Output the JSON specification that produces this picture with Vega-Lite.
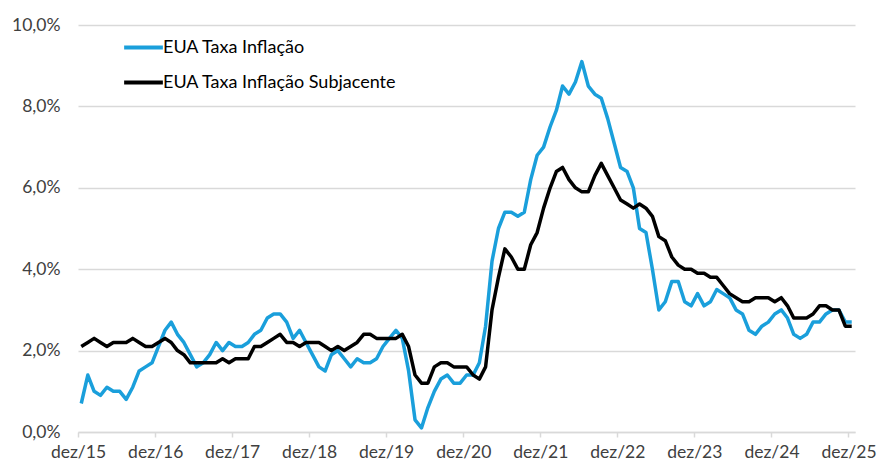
{
  "$schema": "https://vega.github.io/schema/vega-lite/v6.json",
  "width": 777,
  "height": 407,
  "autosize": {"type": "none"},
  "padding": {"left": 78, "top": 25, "right": 25, "bottom": 32},
  "background": "white",
  "config": {
    "view": {"stroke": null},
    "font": "Lato",
    "axis": {"labelFont": "Lato", "labelColor": "#404040", "labelFontSize": 17.5},
    "legend": {"labelFont": "Lato"}
  },
  "data": {
    "values": [
      {"d": "2015-12-01", "cpi": 0.7, "core": 2.1},
      {"d": "2016-01-01", "cpi": 1.4, "core": 2.2},
      {"d": "2016-02-01", "cpi": 1.0, "core": 2.3},
      {"d": "2016-03-01", "cpi": 0.9, "core": 2.2},
      {"d": "2016-04-01", "cpi": 1.1, "core": 2.1},
      {"d": "2016-05-01", "cpi": 1.0, "core": 2.2},
      {"d": "2016-06-01", "cpi": 1.0, "core": 2.2},
      {"d": "2016-07-01", "cpi": 0.8, "core": 2.2},
      {"d": "2016-08-01", "cpi": 1.1, "core": 2.3},
      {"d": "2016-09-01", "cpi": 1.5, "core": 2.2},
      {"d": "2016-10-01", "cpi": 1.6, "core": 2.1},
      {"d": "2016-11-01", "cpi": 1.7, "core": 2.1},
      {"d": "2016-12-01", "cpi": 2.1, "core": 2.2},
      {"d": "2017-01-01", "cpi": 2.5, "core": 2.3},
      {"d": "2017-02-01", "cpi": 2.7, "core": 2.2},
      {"d": "2017-03-01", "cpi": 2.4, "core": 2.0},
      {"d": "2017-04-01", "cpi": 2.2, "core": 1.9},
      {"d": "2017-05-01", "cpi": 1.9, "core": 1.7},
      {"d": "2017-06-01", "cpi": 1.6, "core": 1.7},
      {"d": "2017-07-01", "cpi": 1.7, "core": 1.7},
      {"d": "2017-08-01", "cpi": 1.9, "core": 1.7},
      {"d": "2017-09-01", "cpi": 2.2, "core": 1.7},
      {"d": "2017-10-01", "cpi": 2.0, "core": 1.8},
      {"d": "2017-11-01", "cpi": 2.2, "core": 1.7},
      {"d": "2017-12-01", "cpi": 2.1, "core": 1.8},
      {"d": "2018-01-01", "cpi": 2.1, "core": 1.8},
      {"d": "2018-02-01", "cpi": 2.2, "core": 1.8},
      {"d": "2018-03-01", "cpi": 2.4, "core": 2.1},
      {"d": "2018-04-01", "cpi": 2.5, "core": 2.1},
      {"d": "2018-05-01", "cpi": 2.8, "core": 2.2},
      {"d": "2018-06-01", "cpi": 2.9, "core": 2.3},
      {"d": "2018-07-01", "cpi": 2.9, "core": 2.4},
      {"d": "2018-08-01", "cpi": 2.7, "core": 2.2},
      {"d": "2018-09-01", "cpi": 2.3, "core": 2.2},
      {"d": "2018-10-01", "cpi": 2.5, "core": 2.1},
      {"d": "2018-11-01", "cpi": 2.2, "core": 2.2},
      {"d": "2018-12-01", "cpi": 1.9, "core": 2.2},
      {"d": "2019-01-01", "cpi": 1.6, "core": 2.2},
      {"d": "2019-02-01", "cpi": 1.5, "core": 2.1},
      {"d": "2019-03-01", "cpi": 1.9, "core": 2.0},
      {"d": "2019-04-01", "cpi": 2.0, "core": 2.1},
      {"d": "2019-05-01", "cpi": 1.8, "core": 2.0},
      {"d": "2019-06-01", "cpi": 1.6, "core": 2.1},
      {"d": "2019-07-01", "cpi": 1.8, "core": 2.2},
      {"d": "2019-08-01", "cpi": 1.7, "core": 2.4},
      {"d": "2019-09-01", "cpi": 1.7, "core": 2.4},
      {"d": "2019-10-01", "cpi": 1.8, "core": 2.3},
      {"d": "2019-11-01", "cpi": 2.1, "core": 2.3},
      {"d": "2019-12-01", "cpi": 2.3, "core": 2.3},
      {"d": "2020-01-01", "cpi": 2.5, "core": 2.3},
      {"d": "2020-02-01", "cpi": 2.3, "core": 2.4},
      {"d": "2020-03-01", "cpi": 1.5, "core": 2.1},
      {"d": "2020-04-01", "cpi": 0.3, "core": 1.4},
      {"d": "2020-05-01", "cpi": 0.1, "core": 1.2},
      {"d": "2020-06-01", "cpi": 0.6, "core": 1.2},
      {"d": "2020-07-01", "cpi": 1.0, "core": 1.6},
      {"d": "2020-08-01", "cpi": 1.3, "core": 1.7},
      {"d": "2020-09-01", "cpi": 1.4, "core": 1.7},
      {"d": "2020-10-01", "cpi": 1.2, "core": 1.6},
      {"d": "2020-11-01", "cpi": 1.2, "core": 1.6},
      {"d": "2020-12-01", "cpi": 1.4, "core": 1.6},
      {"d": "2021-01-01", "cpi": 1.4, "core": 1.4},
      {"d": "2021-02-01", "cpi": 1.7, "core": 1.3},
      {"d": "2021-03-01", "cpi": 2.6, "core": 1.6},
      {"d": "2021-04-01", "cpi": 4.2, "core": 3.0},
      {"d": "2021-05-01", "cpi": 5.0, "core": 3.8},
      {"d": "2021-06-01", "cpi": 5.4, "core": 4.5},
      {"d": "2021-07-01", "cpi": 5.4, "core": 4.3},
      {"d": "2021-08-01", "cpi": 5.3, "core": 4.0},
      {"d": "2021-09-01", "cpi": 5.4, "core": 4.0},
      {"d": "2021-10-01", "cpi": 6.2, "core": 4.6},
      {"d": "2021-11-01", "cpi": 6.8, "core": 4.9},
      {"d": "2021-12-01", "cpi": 7.0, "core": 5.5},
      {"d": "2022-01-01", "cpi": 7.5, "core": 6.0},
      {"d": "2022-02-01", "cpi": 7.9, "core": 6.4},
      {"d": "2022-03-01", "cpi": 8.5, "core": 6.5},
      {"d": "2022-04-01", "cpi": 8.3, "core": 6.2},
      {"d": "2022-05-01", "cpi": 8.6, "core": 6.0},
      {"d": "2022-06-01", "cpi": 9.1, "core": 5.9},
      {"d": "2022-07-01", "cpi": 8.5, "core": 5.9},
      {"d": "2022-08-01", "cpi": 8.3, "core": 6.3},
      {"d": "2022-09-01", "cpi": 8.2, "core": 6.6},
      {"d": "2022-10-01", "cpi": 7.7, "core": 6.3},
      {"d": "2022-11-01", "cpi": 7.1, "core": 6.0},
      {"d": "2022-12-01", "cpi": 6.5, "core": 5.7},
      {"d": "2023-01-01", "cpi": 6.4, "core": 5.6},
      {"d": "2023-02-01", "cpi": 6.0, "core": 5.5},
      {"d": "2023-03-01", "cpi": 5.0, "core": 5.6},
      {"d": "2023-04-01", "cpi": 4.9, "core": 5.5},
      {"d": "2023-05-01", "cpi": 4.0, "core": 5.3},
      {"d": "2023-06-01", "cpi": 3.0, "core": 4.8},
      {"d": "2023-07-01", "cpi": 3.2, "core": 4.7},
      {"d": "2023-08-01", "cpi": 3.7, "core": 4.3},
      {"d": "2023-09-01", "cpi": 3.7, "core": 4.1},
      {"d": "2023-10-01", "cpi": 3.2, "core": 4.0},
      {"d": "2023-11-01", "cpi": 3.1, "core": 4.0},
      {"d": "2023-12-01", "cpi": 3.4, "core": 3.9},
      {"d": "2024-01-01", "cpi": 3.1, "core": 3.9},
      {"d": "2024-02-01", "cpi": 3.2, "core": 3.8},
      {"d": "2024-03-01", "cpi": 3.5, "core": 3.8},
      {"d": "2024-04-01", "cpi": 3.4, "core": 3.6},
      {"d": "2024-05-01", "cpi": 3.3, "core": 3.4},
      {"d": "2024-06-01", "cpi": 3.0, "core": 3.3},
      {"d": "2024-07-01", "cpi": 2.9, "core": 3.2},
      {"d": "2024-08-01", "cpi": 2.5, "core": 3.2},
      {"d": "2024-09-01", "cpi": 2.4, "core": 3.3},
      {"d": "2024-10-01", "cpi": 2.6, "core": 3.3},
      {"d": "2024-11-01", "cpi": 2.7, "core": 3.3},
      {"d": "2024-12-01", "cpi": 2.9, "core": 3.2},
      {"d": "2025-01-01", "cpi": 3.0, "core": 3.3},
      {"d": "2025-02-01", "cpi": 2.8, "core": 3.1},
      {"d": "2025-03-01", "cpi": 2.4, "core": 2.8},
      {"d": "2025-04-01", "cpi": 2.3, "core": 2.8},
      {"d": "2025-05-01", "cpi": 2.4, "core": 2.8},
      {"d": "2025-06-01", "cpi": 2.7, "core": 2.9},
      {"d": "2025-07-01", "cpi": 2.7, "core": 3.1},
      {"d": "2025-08-01", "cpi": 2.9, "core": 3.1},
      {"d": "2025-09-01", "cpi": 3.0, "core": 3.0},
      {"d": "2025-10-01", "cpi": 3.0, "core": 3.0},
      {"d": "2025-11-01", "cpi": 2.7, "core": 2.6},
      {"d": "2025-12-01", "cpi": 2.7, "core": 2.6}
    ]
  },
  "encoding": {
    "x": {
      "field": "d",
      "type": "temporal",
      "timeUnit": "utcyearmonth",
      "bandPosition": 0.5,
      "scale": {
        "type": "utc",
        "domain": [
          {"year": 2015, "month": 12, "date": 1, "utc": true},
          {"year": 2026, "month": 1, "date": 1, "utc": true}
        ],
        "nice": false
      },
      "axis": {
        "title": null,
        "grid": false,
        "values": [
          {"year": 2015, "month": 12, "date": 1, "utc": true},
          {"year": 2016, "month": 12, "date": 1, "utc": true},
          {"year": 2017, "month": 12, "date": 1, "utc": true},
          {"year": 2018, "month": 12, "date": 1, "utc": true},
          {"year": 2019, "month": 12, "date": 1, "utc": true},
          {"year": 2020, "month": 12, "date": 1, "utc": true},
          {"year": 2021, "month": 12, "date": 1, "utc": true},
          {"year": 2022, "month": 12, "date": 1, "utc": true},
          {"year": 2023, "month": 12, "date": 1, "utc": true},
          {"year": 2024, "month": 12, "date": 1, "utc": true},
          {"year": 2025, "month": 12, "date": 1, "utc": true}
        ],
        "labelExpr": "'dez/' + utcFormat(datum.value, '%y')",
        "domainColor": "#d9d9d9",
        "domainWidth": 1.5,
        "tickColor": "#d9d9d9",
        "tickWidth": 1.5,
        "tickSize": 5,
        "labelPadding": 6,
        "labelFlush": false,
        "labelOverlap": false
      }
    }
  },
  "layer": [
    {
      "mark": {"type": "line", "strokeWidth": 3.5, "strokeJoin": "round"},
      "encoding": {
        "y": {
          "field": "cpi",
          "type": "quantitative",
          "scale": {"domain": [0, 10], "nice": false},
          "axis": {
            "title": null,
            "values": [0, 2, 4, 6, 8, 10],
            "labelExpr": "replace(format(datum.value, '.1f'), '.', ',') + '%'",
            "domain": false,
            "ticks": false,
            "gridColor": "#d9d9d9",
            "gridWidth": 1.5,
            "labelPadding": 18
          }
        },
        "color": {
          "datum": "EUA Taxa Inflação",
          "type": "nominal",
          "scale": {
            "domain": ["EUA Taxa Inflação", "EUA Taxa Inflação Subjacente"],
            "range": ["#1a9fdb", "#000000"]
          },
          "legend": {
            "title": null,
            "orient": "none",
            "legendX": 44,
            "legendY": 1,
            "symbolType": "stroke",
            "symbolSize": 1500,
            "symbolStrokeWidth": 4,
            "labelFontSize": 18,
            "labelColor": "#000000",
            "labelOffset": -2,
            "labelLimit": 500,
            "rowPadding": 4
          }
        }
      }
    },
    {
      "mark": {"type": "line", "strokeWidth": 3.5, "strokeJoin": "round"},
      "encoding": {
        "y": {"field": "core", "type": "quantitative"},
        "color": {"datum": "EUA Taxa Inflação Subjacente", "type": "nominal"}
      }
    }
  ]
}
